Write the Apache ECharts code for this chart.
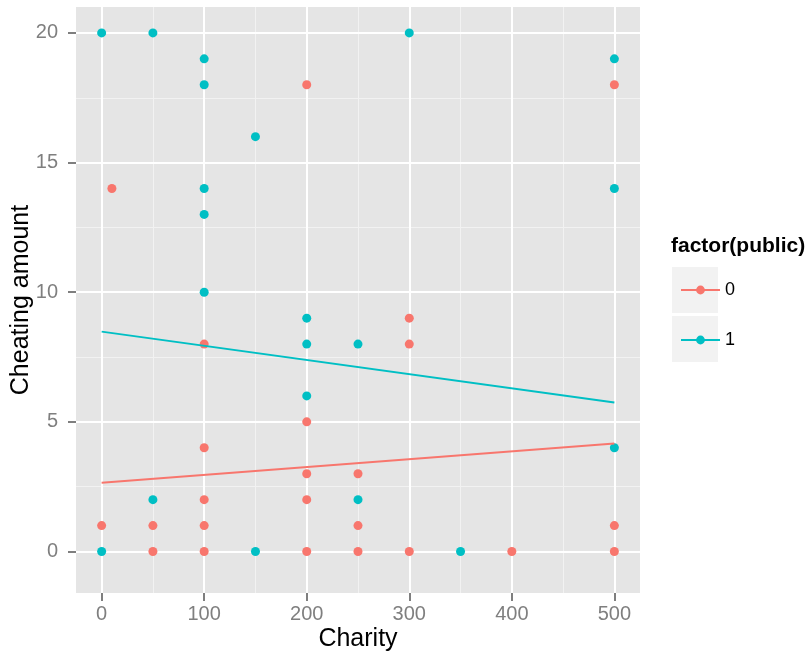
<!DOCTYPE html>
<html>
<head>
<meta charset="utf-8">
<script src="https://cdn.jsdelivr.net/npm/echarts@6/dist/echarts.min.js"></script>
<style>html,body{margin:0;padding:0;background:#fff}#c{width:807px;height:658px}</style>
</head>
<body>
<div id="c"></div>
<script>
// ---- data ----
var xTicks = [0, 100, 200, 300, 400, 500];
var xMinor = [50, 150, 250, 350, 450];
var yTicks = [0, 5, 10, 15, 20];
var yMinor = [2.5, 7.5, 12.5, 17.5];
var groups = ['0', '1'];
var points0 = [[0,1],[10,14],[50,1],[50,0],[100,8],[100,4],[100,2],[100,1],[100,0],
  [200,18],[200,5],[200,3],[200,2],[200,0],[250,3],[250,1],[250,0],
  [300,9],[300,8],[300,0],[400,0],[500,18],[500,1],[500,0]];
var points1 = [[0,20],[0,0],[50,20],[50,2],[100,19],[100,18],[100,14],[100,13],[100,10],
  [150,16],[150,0],[200,9],[200,8],[200,6],[250,8],[250,2],[300,20],[350,0],
  [500,19],[500,14],[500,4]];
var fit0 = [[0,2.65],[500,4.17]];
var fit1 = [[0,8.48],[500,5.75]];
var colors = ['#F8766D', '#00BFC4'];

var FONT = 'Liberation Sans, Arial, Helvetica, sans-serif';
var chart = echarts.init(document.getElementById('c'), null, {renderer: 'canvas'});

function majorAxis(min, max, ticks, isX) {
  return {
    type: 'value', min: min, max: max, z: 1, position: isX ? 'bottom' : 'left',
    axisLine: {show: false, onZero: false},
    axisTick: {show: true, length: 8, customValues: ticks, lineStyle: {color: '#7F7F7F', width: 2}},
    axisLabel: {show: true, customValues: ticks, color: '#7F7F7F', fontSize: 20, fontFamily: FONT, margin: isX ? 11 : 18},
    splitLine: {show: true, lineStyle: {color: '#FFFFFF', width: 2}}
  };
}
function minorAxis(min, max, ticks, isX) {
  return {
    type: 'value', min: min, max: max, z: 0.5, position: isX ? 'bottom' : 'left',
    axisLine: {show: false, onZero: false},
    axisTick: {show: false, customValues: ticks},
    axisLabel: {show: false, customValues: ticks},
    splitLine: {show: true, lineStyle: {color: '#F2F2F2', width: 1}}
  };
}

var series = [];
series.push({type: 'line', name: groups[0], data: fit0, xAxisIndex: 1, yAxisIndex: 1, z: 4,
  symbol: 'circle', showSymbol: false, color: colors[0], lineStyle: {width: 2, color: colors[0]}, silent: true});
series.push({type: 'line', name: groups[1], data: fit1, xAxisIndex: 1, yAxisIndex: 1, z: 4,
  symbol: 'circle', showSymbol: false, color: colors[1], lineStyle: {width: 2, color: colors[1]}, silent: true});
series.push({type: 'scatter', name: groups[0], data: points0, xAxisIndex: 1, yAxisIndex: 1, z: 3,
  symbolSize: 9, itemStyle: {color: colors[0], opacity: 1}});
series.push({type: 'scatter', name: groups[1], data: points1, xAxisIndex: 1, yAxisIndex: 1, z: 3,
  symbolSize: 9, itemStyle: {color: colors[1], opacity: 1}});

chart.setOption({
  animation: false,
  grid: {left: 76, right: 167, top: 7, bottom: 65, show: true, backgroundColor: '#E5E5E5', borderWidth: 0, z: 0},
  xAxis: [minorAxis(-25, 525, xMinor, true), majorAxis(-25, 525, xTicks, true)],
  yAxis: [minorAxis(-1.6, 21, yMinor, false), majorAxis(-1.6, 21, yTicks, false)],
  legend: {
    data: groups, orient: 'vertical', left: 675, top: 275,
    itemWidth: 39, itemHeight: 11, itemGap: 30,
    textStyle: {fontSize: 18, color: '#000', fontFamily: FONT, lineHeight: 20, padding: [0, 0, 0, 0]},
    selectedMode: false
  },
  graphic: [
    {type: 'rect', shape: {x: 672, y: 267, width: 46, height: 46}, style: {fill: '#F2F2F2'}, z: -1, silent: true},
    {type: 'rect', shape: {x: 672, y: 316, width: 46, height: 46}, style: {fill: '#F2F2F2'}, z: -1, silent: true},
    {type: 'text', x: 671, y: 246, style: {text: 'factor(public)', fontSize: 21, fontWeight: 'bold', fontFamily: FONT, fill: '#000', verticalAlign: 'middle', align: 'left'}},
    {type: 'text', x: 358, y: 639, style: {text: 'Charity', fontSize: 25, fontFamily: FONT, fill: '#000', verticalAlign: 'middle', align: 'center'}},
    {type: 'text', x: 21, y: 300, rotation: Math.PI / 2, style: {text: 'Cheating amount', fontSize: 25, fontFamily: FONT, fill: '#000', verticalAlign: 'middle', align: 'center'}}
  ],
  series: series
});
</script>
</body>
</html>
